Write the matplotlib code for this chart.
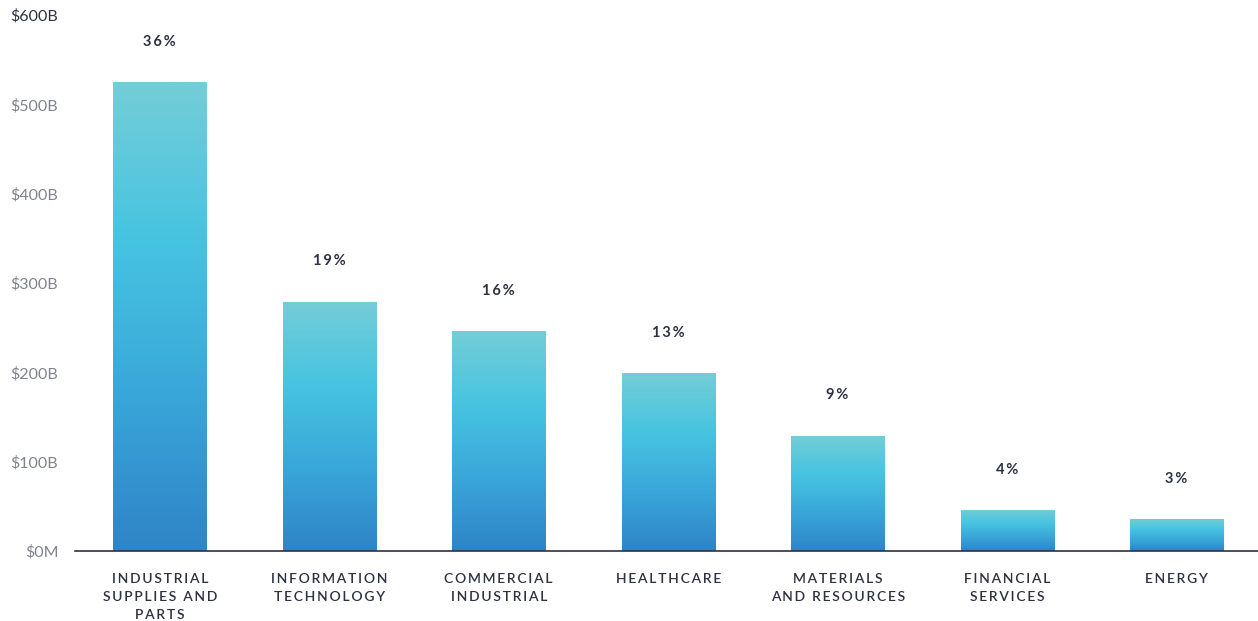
import numpy as np
import matplotlib
matplotlib.use("Agg")
import matplotlib.pyplot as plt
from matplotlib.colors import LinearSegmentedColormap
from matplotlib.patches import Rectangle

plt.rcParams["font.family"] = ["Lato", "DejaVu Sans"]

categories = [
    "INDUSTRIAL\nSUPPLIES AND\nPARTS",
    "INFORMATION\nTECHNOLOGY",
    "COMMERCIAL\nINDUSTRIAL",
    "HEALTHCARE",
    "MATERIALS\nAND RESOURCES",
    "FINANCIAL\nSERVICES",
    "ENERGY",
]
values_b = [525, 279, 246, 199, 129, 46, 36]          # spend, $B
shares = ["36%", "19%", "16%", "13%", "9%", "4%", "3%"]
y_ticks = [0, 100, 200, 300, 400, 500, 600]
y_tick_labels = ["$0M", "$100B", "$200B", "$300B", "$400B", "$500B", "$600B"]

DARK = "#2d3142"
GREY = "#80838e"


def spaced(text, gap="\u2009"):
    # widen tracking by putting a thin space between letters
    return "\n".join(gap.join(list(line)) for line in text.split("\n"))


grad = LinearSegmentedColormap.from_list(
    "bar_grad",
    [(0.0, "#2f84c7"), (0.35, "#3aa8da"), (0.67, "#47c4e1"), (1.0, "#74cdd7")],
)

fig = plt.figure(figsize=(12.58, 6.21), dpi=100)
W, H = 1258, 621
ax = fig.add_axes([75 / W, 1 - 551 / H, (1258 - 75) / W, (551 - 15) / H])

x = np.arange(len(categories))
bar_w = 0.55
ax.set_xlim(-0.5, 6.48)
ax.set_ylim(0, 600)

bars = ax.bar(x, values_b, width=bar_w, color="none", edgecolor="none")
gradient = np.linspace(0, 1, 256).reshape(-1, 1)
for b in bars:
    x0, y0 = b.get_x(), b.get_y()
    w, h = b.get_width(), b.get_height()
    im = ax.imshow(gradient, cmap=grad, origin="lower", aspect="auto",
                   extent=[x0, x0 + w, y0, y0 + h], zorder=2)
    clip = Rectangle((x0, y0), w, h, transform=ax.transData)
    im.set_clip_path(clip)

for xi, v, s in zip(x, values_b, shares):
    ax.annotate(spaced(s), (xi, v), xytext=(0, 24), textcoords="offset points",
                ha="center", va="bottom", fontsize=10.5, color=DARK,
                fontweight="bold")

ax.set_xticks(x)
ax.set_xticklabels([spaced(c) for c in categories], fontsize=10,
                   color=DARK, fontweight="semibold", linespacing=1.6)
ax.set_yticks(y_ticks)
ax.set_yticklabels(y_tick_labels, fontsize=11.5, color=GREY,
                   fontweight="normal")
ax.get_yticklabels()[-1].set_color(DARK)
ax.tick_params(axis="both", length=0)
ax.tick_params(axis="x", pad=16)
ax.tick_params(axis="y", pad=12)

for side in ["top", "right", "left"]:
    ax.spines[side].set_visible(False)
ax.spines["bottom"].set_color(DARK)
ax.spines["bottom"].set_linewidth(1.2)
ax.spines["bottom"].set_zorder(3)

fig.savefig("out.png", dpi=100, facecolor="white")
